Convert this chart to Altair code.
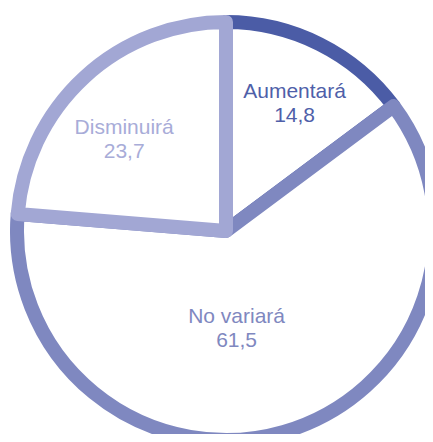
import altair as alt
import pandas as pd

categories = ["Aumentará", "No variará", "Disminuirá"]
values = [14.8, 61.5, 23.7]
stroke_colors = ["#4b5ca6", "#7f88c0", "#a2a7d4"]
text_colors = ["#4f5fa9", "#7f88c0", "#a8acd8"]

df = pd.DataFrame({"category": categories, "value": values, "idx": list(range(len(categories)))})

CX, CY = 218, 223
R = 209

base = alt.Chart(df)

arcs = base.mark_arc(
    outerRadius=R, fill="white", strokeWidth=14, strokeJoin="round"
).encode(
    theta=alt.Theta("value:Q", stack=True),
    order=alt.Order("idx:Q"),
    stroke=alt.Stroke("category:N", scale=alt.Scale(domain=categories, range=stroke_colors), legend=None),
    x=alt.value(CX),
    y=alt.value(CY),
)

label_base = base.transform_joinaggregate(
    total="sum(value)"
).transform_window(
    cum="sum(value)", sort=[alt.SortField("idx")], frame=[None, 0]
).transform_calculate(
    mid="(datum.cum - datum.value / 2) / datum.total * 2 * PI",
    label="datum.category + '\\n' + replace(format(datum.value, '.1f'), '.', ',')",
)

def label_layer(cat, color, radius, dx, dy):
    return label_base.transform_filter(
        alt.datum.category == cat
    ).mark_text(
        font="Liberation Sans", fontSize=21, lineHeight=24, lineBreak="\n",
        color=color, radius=radius, dx=dx, dy=dy, align="center", baseline="middle",
    ).encode(
        theta=alt.Theta("mid:Q", scale=None),
        text="label:N",
        x=alt.value(CX),
        y=alt.value(CY),
    )

labels = [
    label_layer(categories[0], text_colors[0], 144, 4, -10),
    label_layer(categories[1], text_colors[1], 100, -17, -10),
    label_layer(categories[2], text_colors[2], 137, -9, -2),
]

chart = alt.layer(arcs, *labels).properties(
    width=417, height=426, autosize=alt.AutoSizeParams(type="none"), padding=0
).configure_view(stroke=None)

chart.save("out.html", embed_options={"renderer": "svg", "actions": False})
